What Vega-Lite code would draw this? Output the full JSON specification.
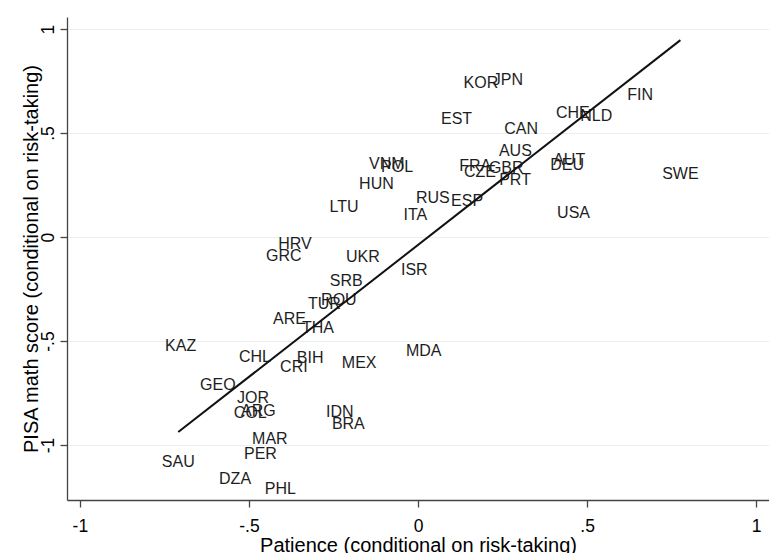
{
  "$schema": "https://vega.github.io/schema/vega-lite/v6.json",
  "width": 702,
  "height": 483,
  "autosize": {"type": "none"},
  "padding": {"left": 67, "top": 17, "right": 0, "bottom": 53},
  "background": "white",
  "config": {
    "view": {"stroke": null},
    "font": "Liberation Sans",
    "axis": {
      "domainColor": "#444444",
      "domainWidth": 1.3,
      "tickColor": "#444444",
      "tickWidth": 1.3,
      "tickSize": 7,
      "labelFontSize": 17.5,
      "labelColor": "#000000",
      "titleFontSize": 20,
      "titleFontWeight": "normal",
      "titleColor": "#000000",
      "gridColor": "#e6eff1",
      "gridWidth": 1.2
    }
  },
  "datasets": {
    "countries": [
      {"code": "KOR", "patience": 0.186, "pisa": 0.740},
      {"code": "JPN", "patience": 0.266, "pisa": 0.755},
      {"code": "EST", "patience": 0.114, "pisa": 0.567},
      {"code": "CAN", "patience": 0.305, "pisa": 0.519},
      {"code": "AUS", "patience": 0.288, "pisa": 0.413},
      {"code": "VNM", "patience": -0.092, "pisa": 0.351},
      {"code": "POL", "patience": -0.062, "pisa": 0.336},
      {"code": "HUN", "patience": -0.123, "pisa": 0.255},
      {"code": "FRA", "patience": 0.169, "pisa": 0.341},
      {"code": "CZE", "patience": 0.183, "pisa": 0.312},
      {"code": "GBR", "patience": 0.261, "pisa": 0.332},
      {"code": "PRT", "patience": 0.287, "pisa": 0.274},
      {"code": "RUS", "patience": 0.044, "pisa": 0.187},
      {"code": "ESP", "patience": 0.145, "pisa": 0.173},
      {"code": "LTU", "patience": -0.219, "pisa": 0.144},
      {"code": "ITA", "patience": -0.008, "pisa": 0.106},
      {"code": "FIN", "patience": 0.657, "pisa": 0.683},
      {"code": "CHE", "patience": 0.458, "pisa": 0.596},
      {"code": "NLD", "patience": 0.527, "pisa": 0.582},
      {"code": "AUT", "patience": 0.447, "pisa": 0.370},
      {"code": "DEU", "patience": 0.441, "pisa": 0.346},
      {"code": "SWE", "patience": 0.776, "pisa": 0.303},
      {"code": "USA", "patience": 0.460, "pisa": 0.115},
      {"code": "HRV", "patience": -0.364, "pisa": -0.034},
      {"code": "GRC", "patience": -0.397, "pisa": -0.092},
      {"code": "UKR", "patience": -0.163, "pisa": -0.096},
      {"code": "ISR", "patience": -0.011, "pisa": -0.159},
      {"code": "SRB", "patience": -0.212, "pisa": -0.212},
      {"code": "ROU", "patience": -0.234, "pisa": -0.303},
      {"code": "TUR", "patience": -0.277, "pisa": -0.322},
      {"code": "ARE", "patience": -0.380, "pisa": -0.394},
      {"code": "THA", "patience": -0.296, "pisa": -0.438},
      {"code": "KAZ", "patience": -0.702, "pisa": -0.524},
      {"code": "MDA", "patience": 0.017, "pisa": -0.548},
      {"code": "CHL", "patience": -0.482, "pisa": -0.577},
      {"code": "BIH", "patience": -0.319, "pisa": -0.582},
      {"code": "MEX", "patience": -0.174, "pisa": -0.606},
      {"code": "CRI", "patience": -0.367, "pisa": -0.625},
      {"code": "GEO", "patience": -0.592, "pisa": -0.712},
      {"code": "JOR", "patience": -0.488, "pisa": -0.774},
      {"code": "ARG", "patience": -0.472, "pisa": -0.837},
      {"code": "COL", "patience": -0.496, "pisa": -0.846},
      {"code": "IDN", "patience": -0.231, "pisa": -0.842},
      {"code": "BRA", "patience": -0.206, "pisa": -0.899},
      {"code": "MAR", "patience": -0.438, "pisa": -0.971},
      {"code": "PER", "patience": -0.466, "pisa": -1.043},
      {"code": "SAU", "patience": -0.709, "pisa": -1.082},
      {"code": "DZA", "patience": -0.541, "pisa": -1.164},
      {"code": "PHL", "patience": -0.407, "pisa": -1.212}
    ],
    "fit": [
      {"patience": -0.709, "pisa": -0.9375},
      {"patience": 0.776, "pisa": 0.947}
    ]
  },
  "encoding": {
    "x": {
      "field": "patience",
      "type": "quantitative",
      "scale": {"domain": [-1.038, 1.038], "nice": false, "zero": false},
      "axis": {
        "title": "Patience (conditional on risk-taking)",
        "values": [-1, -0.5, 0, 0.5, 1],
        "labelExpr": "datum.value == -1 ? '-1' : datum.value == -0.5 ? '-.5' : datum.value == 0 ? '0' : datum.value == 0.5 ? '.5' : '1'",
        "grid": false,
        "labelPadding": 10,
        "labelFlush": false,
        "labelOverlap": false,
        "titleBaseline": "alphabetic",
        "titleY": 51
      }
    },
    "y": {
      "field": "pisa",
      "type": "quantitative",
      "scale": {"domain": [-1.264, 1.058], "nice": false, "zero": false},
      "axis": {
        "title": "PISA math score (conditional on risk-taking)",
        "values": [-1, -0.5, 0, 0.5, 1],
        "labelExpr": "datum.value == -1 ? '-1' : datum.value == -0.5 ? '-.5' : datum.value == 0 ? '0' : datum.value == 0.5 ? '.5' : '1'",
        "grid": true,
        "labelAngle": -90,
        "labelAlign": "center",
        "labelBaseline": "alphabetic",
        "labelPadding": 7,
        "labelFlush": false,
        "labelOverlap": false,
        "titleAngle": -90,
        "titleBaseline": "alphabetic",
        "titleX": -30
      }
    }
  },
  "layer": [
    {
      "data": {"name": "countries"},
      "mark": {"type": "text", "fontSize": 16, "align": "center", "baseline": "middle", "color": "#1e1e1e"},
      "encoding": {"text": {"field": "code", "type": "nominal"}}
    },
    {
      "data": {"name": "fit"},
      "mark": {"type": "line", "color": "#111111", "strokeWidth": 2},
      "encoding": {}
    }
  ]
}
